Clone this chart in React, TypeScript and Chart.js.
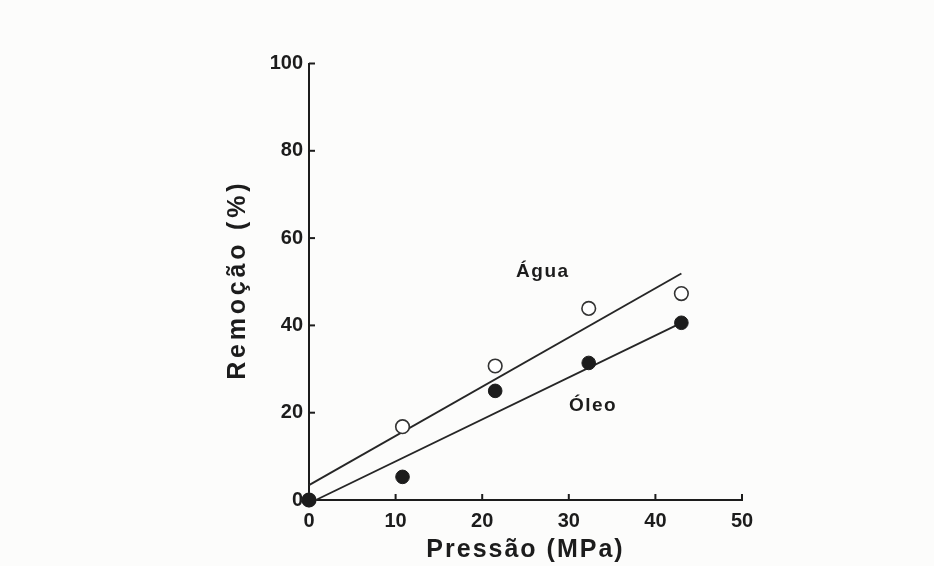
import React, { useEffect, useRef } from "react";
import { Chart, registerables } from "chart.js";

Chart.register(...registerables);

// ---- data ----
const pressureAgua = [0, 10.8, 21.5, 32.3, 43.0];
const removalAgua = [0, 16.8, 30.7, 43.9, 47.3];
const pressureOleo = [0, 10.8, 21.5, 32.3, 43.0];
const removalOleo = [0, 5.3, 25.0, 31.4, 40.6];
const fitAguaX = [0, 43.0];
const fitAguaY = [3.4, 51.9];
const fitOleoX = [0.8, 43.0];
const fitOleoY = [0, 40.6];
const xTickValues = [0, 10, 20, 30, 40, 50];
const yTickValues = [0, 20, 40, 60, 80, 100];
const seriesNames = ["Água", "Óleo"];
const seriesNameAnchorX = [27.0, 32.8];
const seriesNameAnchorY = [52.2, 21.5];
const xTitle = "Pressão (MPa)";
const yTitle = "Remoção (%)";

const INK = "#1c1c1c";
const FONT = '"Liberation Sans", Arial, Helvetica, sans-serif';

const toXY = (xs: number[], ys: number[]) => xs.map((x, i) => ({ x, y: ys[i] }));

const decor = {
  id: "decor",
  beforeDraw(chart: any) {
    const { ctx, width, height } = chart;
    ctx.save();
    ctx.fillStyle = "#fcfcfb";
    ctx.fillRect(0, 0, width, height);
    ctx.restore();
  },
  afterDraw(chart: any) {
    const { ctx } = chart;
    const x = chart.scales.x;
    const y = chart.scales.y;
    ctx.save();
    ctx.strokeStyle = INK;
    ctx.lineWidth = 2;
    // inward tick marks
    xTickValues.forEach((v) => {
      if (v === 0) return;
      const px = x.getPixelForValue(v);
      ctx.beginPath();
      ctx.moveTo(px, y.bottom);
      ctx.lineTo(px, y.bottom - 6);
      ctx.stroke();
    });
    yTickValues.forEach((v) => {
      if (v === 0) return;
      const py = y.getPixelForValue(v);
      ctx.beginPath();
      ctx.moveTo(x.left, py);
      ctx.lineTo(x.left + 6, py);
      ctx.stroke();
    });
    ctx.fillStyle = INK;
    ctx.textAlign = "center";
    ctx.textBaseline = "middle";
    // series labels
    ctx.font = `bold 19px ${FONT}`;
    (ctx as any).letterSpacing = "1.5px";
    seriesNames.forEach((t, i) => {
      ctx.fillText(t, x.getPixelForValue(seriesNameAnchorX[i]), y.getPixelForValue(seriesNameAnchorY[i]));
    });
    // axis titles
    ctx.font = `bold 25px ${FONT}`;
    (ctx as any).letterSpacing = "2px";
    ctx.fillText(xTitle, (x.left + x.right) / 2, y.bottom + 50);
    ctx.save();
    ctx.translate(x.left - 71, (y.top + y.bottom) / 2 - 2);
    ctx.rotate(-Math.PI / 2);
    (ctx as any).letterSpacing = "3.8px";
    ctx.fillText(yTitle, 0, 0);
    ctx.restore();
    ctx.restore();
  },
};

export default function App() {
  const ref = useRef<HTMLCanvasElement | null>(null);
  useEffect(() => {
    if (!ref.current) return;
    const chart = new Chart(ref.current, {
      type: "scatter",
      data: {
        datasets: [
          {
            label: seriesNames[1],
            data: toXY(pressureOleo, removalOleo),
            pointRadius: 6.8,
            pointBackgroundColor: INK,
            pointBorderColor: INK,
            pointBorderWidth: 1,
            showLine: false,
            clip: false,
          } as any,
          {
            label: seriesNames[0],
            data: toXY(pressureAgua, removalAgua),
            pointRadius: 6.8,
            pointBackgroundColor: "#ffffff",
            pointBorderColor: "#333333",
            pointBorderWidth: 1.6,
            showLine: false,
            clip: false,
          } as any,
          {
            label: "fit " + seriesNames[0],
            data: toXY(fitAguaX, fitAguaY),
            showLine: true,
            pointRadius: 0,
            borderColor: "#262626",
            borderWidth: 1.9,
            clip: false,
          } as any,
          {
            label: "fit " + seriesNames[1],
            data: toXY(fitOleoX, fitOleoY),
            showLine: true,
            pointRadius: 0,
            borderColor: "#262626",
            borderWidth: 1.9,
            clip: false,
          } as any,
        ],
      },
      options: {
        responsive: false,
        animation: false,
        events: [],
        layout: { padding: { left: 249, right: 192, top: 63.5, bottom: 26 } },
        plugins: { legend: { display: false }, tooltip: { enabled: false } },
        scales: {
          x: {
            type: "linear",
            min: 0,
            max: 50,
            afterBuildTicks: (s: any) => {
              s.ticks = xTickValues.map((v) => ({ value: v }));
            },
            afterFit: (s: any) => {
              s.height = 40;
            },
            grid: { display: true, drawOnChartArea: false, drawTicks: false },
            border: { display: true, color: INK, width: 2 },
            ticks: {
              color: INK,
              padding: 9,
              maxRotation: 0,
              font: { family: FONT, size: 20, weight: "bold" },
            },
          },
          y: {
            type: "linear",
            min: 0,
            max: 100,
            afterBuildTicks: (s: any) => {
              s.ticks = yTickValues.map((v) => ({ value: v }));
            },
            afterFit: (s: any) => {
              s.width = 60;
            },
            grid: { display: true, drawOnChartArea: false, drawTicks: false },
            border: { display: true, color: INK, width: 2 },
            ticks: {
              color: INK,
              padding: 6,
              font: { family: FONT, size: 20, weight: "bold" },
            },
          },
        },
      },
      plugins: [decor],
    });
    return () => chart.destroy();
  }, []);
  return (
    <div style={{ position: "absolute", left: 0, top: 0, width: 934, height: 566 }}>
      <canvas ref={ref} width={934} height={566} style={{ display: "block", width: 934, height: 566 }} />
    </div>
  );
}
